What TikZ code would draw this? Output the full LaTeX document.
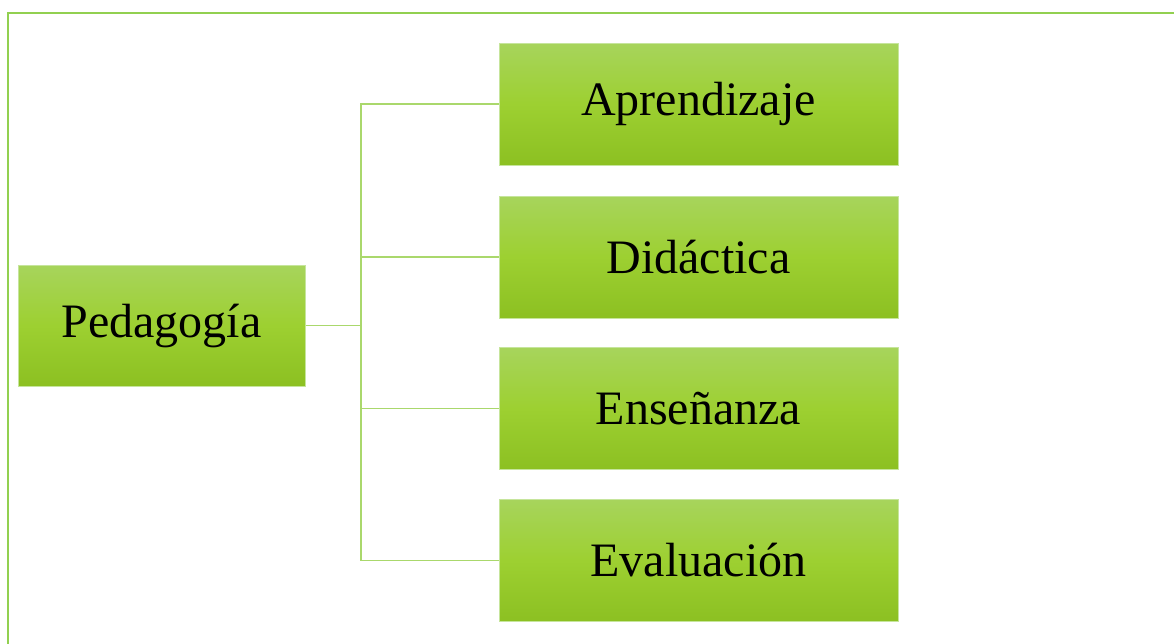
\documentclass[tikz,border=0pt]{standalone}
\usepackage{fontspec}
\setmainfont{Liberation Serif}
\definecolor{framegreen}{HTML}{92D050}
\definecolor{linkgreen}{HTML}{AAD86C}
\definecolor{boxedge}{HTML}{C6E59C}
\definecolor{boxtop}{HTML}{A7D45C}
\definecolor{boxmid}{HTML}{9DD031}
\definecolor{boxbot}{HTML}{8CC022}
\tikzset{
  topic/.style={draw=boxedge, line width=1pt, top color=boxtop, bottom color=boxbot, middle color=boxmid,
    minimum width=399pt, minimum height=122pt, inner sep=0pt,
    font=\fontsize{48}{56}\selectfont, text=black},
  root/.style={topic, minimum width=287pt, minimum height=121pt},
  link/.style={draw=linkgreen, line width=1.5pt},
  framestyle/.style={draw=framegreen, line width=2pt}
}
\begin{document}
\begin{tikzpicture}[x=1pt,y=-1pt]
\useasboundingbox (0,0) rectangle (1174,643);
\draw[framestyle] (8,660) -- (8,12.5) -- (1190,12.5);
\node[root] (ped) at (161.5,325.5) {Pedagogía};
\node[topic] (apr) at (698.5,104) {Aprendizaje};
\node[topic] (did) at (698.5,257) {Didáctica};
\node[topic] (ens) at (698.5,408.5) {Enseñanza};
\node[topic] (eva) at (698.5,560.5) {Evaluación};
\coordinate (bus) at (361,325.5);
\draw[link] (ped.east) -- (bus);
\draw[link] (apr.west) -| (bus);
\draw[link] (did.west) -| (bus);
\draw[link] (ens.west) -| (bus);
\draw[link] (eva.west) -| (bus);
\end{tikzpicture}
\end{document}
